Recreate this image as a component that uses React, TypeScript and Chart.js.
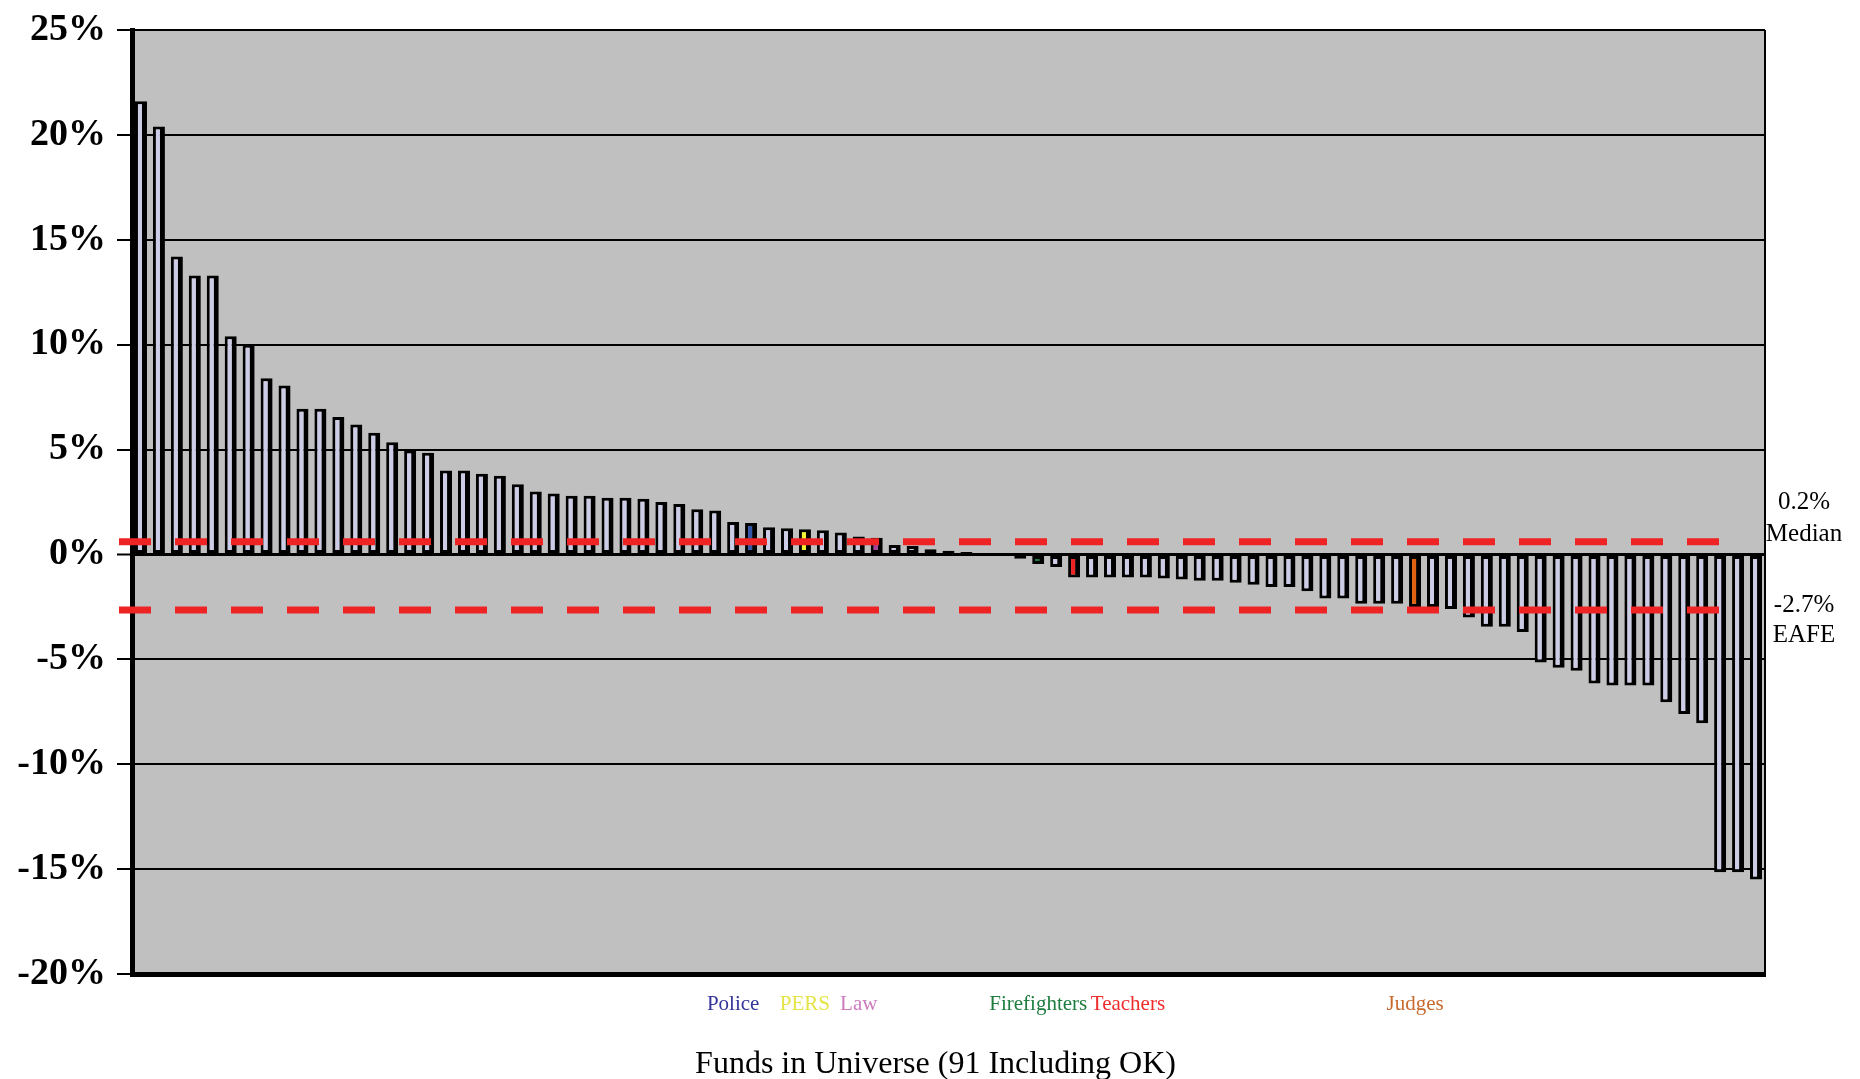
import { useEffect, useRef } from 'react';
import { Chart, registerables } from 'chart.js';

Chart.register(...registerables);

// ---- data ----
const FUND_RETURNS = [
  21.6, 20.4, 14.2, 13.3, 13.3, 10.4, 10.0, 8.4, 8.05, 6.95,
  6.95, 6.55, 6.2, 5.8, 5.35, 4.95, 4.85, 4.0, 4.0, 3.85,
  3.75, 3.35, 3.0, 2.9, 2.8, 2.8, 2.7, 2.7, 2.65, 2.5,
  2.4, 2.15, 2.1, 1.55, 1.5, 1.3, 1.25, 1.2, 1.15, 1.05,
  0.85, 0.8, 0.45, 0.4, 0.25, 0.18, 0.12, 0.04, -0.03, -0.2,
  -0.45, -0.6, -1.1, -1.1, -1.1, -1.1, -1.1, -1.15, -1.2, -1.25,
  -1.25, -1.35, -1.45, -1.55, -1.55, -1.75, -2.1, -2.1, -2.35, -2.35,
  -2.35, -2.5, -2.5, -2.6, -3.0, -3.45, -3.45, -3.7, -5.15, -5.4,
  -5.55, -6.15, -6.25, -6.25, -6.25, -7.05, -7.6, -8.05, -15.15, -15.15,
  -15.5,
];

const Y_MIN = -20;
const Y_MAX = 25;
const Y_STEP = 5;

const GROUP_NAMES = ['Police', 'PERS', 'Law', 'Firefighters', 'Teachers', 'Judges'];
const GROUP_LABEL_INDEX = [33, 37, 40, 50, 55, 71];
const GROUP_LABEL_COLORS = ['#34349A', '#E4E446', '#CC7CBE', '#1E7D3E', '#EE2C2C', '#C86A2E'];

const HIGHLIGHT_INDEX = [34, 37, 41, 45, 50, 52, 71];
const HIGHLIGHT_COLORS = ['#3355A5', '#F2F230', '#A8409A', '#E8DC28', '#1C7A3C', '#EE2222', '#E0620E'];

const MEDIAN_LINE = 0.6;
const EAFE_LINE = -2.65;
const MEDIAN_TEXT = ['0.2%', 'Median'];
const EAFE_TEXT = ['-2.7%', 'EAFE'];
const X_TITLE = 'Funds in Universe (91 Including OK)';

const BAR_FILL = '#CCCCE6';
const PLOT_BG = '#C0C0C0';
const FONT = '"Liberation Serif", "Times New Roman", serif';

const categories = FUND_RETURNS.map((_, i) => {
  const k = GROUP_LABEL_INDEX.indexOf(i);
  return k >= 0 ? GROUP_NAMES[k] : '';
});
const barColors = FUND_RETURNS.map((_, i) => {
  const k = HIGHLIGHT_INDEX.indexOf(i);
  return k >= 0 ? HIGHLIGHT_COLORS[k] : BAR_FILL;
});

const decorPlugin = {
  id: 'decor',
  beforeDraw(chart: any) {
    const { ctx, chartArea: a } = chart;
    ctx.save();
    ctx.fillStyle = PLOT_BG;
    ctx.fillRect(a.left, a.top, a.right - a.left, a.bottom - a.top);
    ctx.restore();
  },
  afterDatasetsDraw(chart: any) {
    const { ctx, chartArea: a } = chart;
    const y = chart.scales.y;
    ctx.save();
    // right border of plot
    ctx.strokeStyle = '#000';
    ctx.lineWidth = 2;
    ctx.beginPath();
    ctx.moveTo(a.right, a.top);
    ctx.lineTo(a.right, a.bottom);
    ctx.stroke();
    // reference lines
    ctx.strokeStyle = '#EE2424';
    ctx.lineWidth = 7;
    ctx.setLineDash([32, 24]);
    for (const v of [MEDIAN_LINE, EAFE_LINE]) {
      const py = y.getPixelForValue(v);
      ctx.beginPath();
      ctx.moveTo(a.left - 13, py);
      ctx.lineTo(a.right - 45, py);
      ctx.stroke();
    }
    ctx.setLineDash([]);
    // right-side annotations
    ctx.fillStyle = '#000';
    ctx.font = `25px ${FONT}`;
    ctx.textAlign = 'center';
    ctx.textBaseline = 'alphabetic';
    const cx = a.right + 39;
    const my = y.getPixelForValue(MEDIAN_LINE);
    ctx.fillText(MEDIAN_TEXT[0], cx, my - 33);
    ctx.fillText(MEDIAN_TEXT[1], cx, my - 1);
    const ey = y.getPixelForValue(EAFE_LINE);
    ctx.fillText(EAFE_TEXT[0], cx, ey + 2);
    ctx.fillText(EAFE_TEXT[1], cx, ey + 32);
    // axis title
    ctx.font = `32px ${FONT}`;
    ctx.fillText(X_TITLE, (a.left + a.right) / 2 - 13, chart.height - 6);
    ctx.restore();
  },
};

export default function App() {
  const ref = useRef<HTMLCanvasElement>(null);
  useEffect(() => {
    document.body.style.margin = '0';
    document.body.style.overflow = 'hidden';
    const chart = new Chart(ref.current as HTMLCanvasElement, {
      type: 'bar',
      data: {
        labels: categories,
        datasets: [
          {
            data: FUND_RETURNS,
            backgroundColor: barColors,
            borderColor: '#000',
            borderWidth: { top: 3, left: 3, bottom: 3, right: 5 } as any,
            borderSkipped: false,
            barPercentage: 0.67,
            categoryPercentage: 1,
          },
        ],
      },
      options: {
        responsive: false,
        animation: false,
        devicePixelRatio: 1,
        layout: { padding: { top: 24, right: 95, left: 0, bottom: 0 } },
        plugins: { legend: { display: false }, tooltip: { enabled: false } },
        scales: {
          x: {
            grid: { display: false, drawTicks: false },
            border: { display: true, color: '#000', width: 5 },
            ticks: {
              autoSkip: false,
              maxRotation: 0,
              minRotation: 0,
              padding: 18,
              font: { family: FONT, size: 21 },
              color: (c: any) => {
                const k = GROUP_LABEL_INDEX.indexOf(c.index);
                return k >= 0 ? GROUP_LABEL_COLORS[k] : '#000';
              },
            },
            title: { display: false },
            afterFit: (axis: any) => {
              axis.height = 105;
            },
          },
          y: {
            min: Y_MIN,
            max: Y_MAX,
            grid: {
              color: '#000',
              lineWidth: (c: any) => (c.tick && c.tick.value === 0 ? 3 : 2),
              drawTicks: true,
              tickLength: 15,
              tickWidth: 2,
              tickColor: '#000',
            },
            border: { display: true, color: '#000', width: 5 },
            ticks: {
              stepSize: Y_STEP,
              padding: 11,
              color: '#000',
              font: { family: FONT, size: 38, weight: 'bold', lineHeight: 1 },
              callback: (v: any) => `${v}%`,
            },
            afterFit: (axis: any) => {
              axis.width = 132;
            },
          },
        },
      },
      plugins: [decorPlugin],
    } as any);
    return () => chart.destroy();
  }, []);
  return (
    <div style={{ width: 1860, height: 1079 }}>
      <canvas ref={ref} width={1860} height={1079} style={{ display: 'block' }} />
    </div>
  );
}
